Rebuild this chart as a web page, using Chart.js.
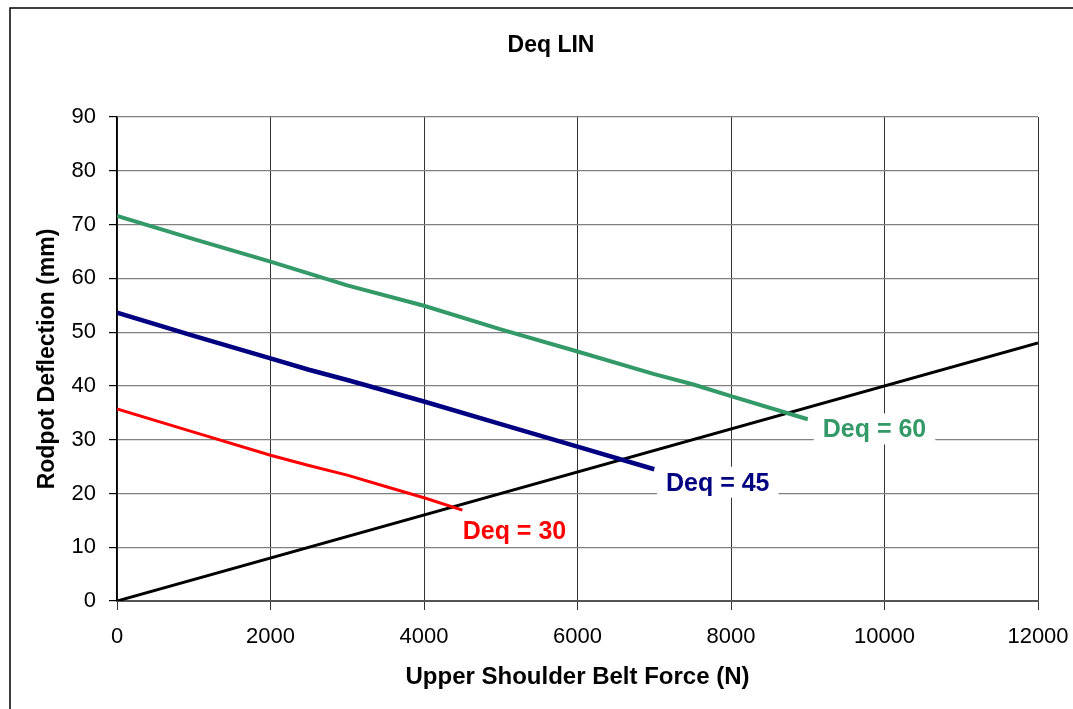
<!DOCTYPE html>
<html>
<head>
<meta charset="utf-8">
<title>Deq LIN</title>
<script src="https://cdn.jsdelivr.net/npm/chart.js@4/dist/chart.umd.min.js"></script>
<style>
  body { margin: 0; background: #fff; }
  canvas { display: block; }
</style>
</head>
<body>
<canvas id="chart" width="1073" height="709"></canvas>
<script>
// belt force (N) and rodpot deflection (mm) for each Deq curve
const forceDeq60 = [0, 1000, 2000, 3000, 4000, 5000, 6000, 7000, 7500, 8000, 9000];
const deflDeq60 = [71.6, 67.3, 63.1, 58.7, 54.9, 50.5, 46.4, 42.2, 40.3, 38.1, 33.8];

const forceDeq45 = [0, 1000, 2000, 2500, 3000, 4000, 5000, 6000, 7000];
const deflDeq45 = [53.6, 49.3, 45.1, 43.0, 41.1, 37.1, 32.9, 28.7, 24.5];

const forceDeq30 = [0, 1000, 2000, 2500, 3000, 3500, 4000, 4500];
const deflDeq30 = [35.7, 31.4, 27.1, 25.2, 23.4, 21.3, 19.2, 16.9];

const forceLin = [0, 12000];
const deflLin = [0, 48];

// curve labels, anchored at their left edge / vertical middle (data units)
const labelText = ["Deq = 60", "Deq = 45", "Deq = 30"];
const labelForce = [9195, 7153, 4504];
const labelDefl = [31.9, 22.0, 13.0];
const labelColors = ["#339966", "#000080", "#ff0000"];

function toPoints(xs, ys) {
  return xs.map((x, i) => ({ x: x, y: ys[i] }));
}

const FONT = "'Liberation Sans', Arial, sans-serif";

// outer frame, chart title and the curve labels
const extras = {
  id: "extras",
  afterDraw(chart) {
    const ctx = chart.ctx;
    ctx.save();
    ctx.strokeStyle = "#000";
    ctx.lineWidth = 1.5;
    ctx.beginPath();
    ctx.moveTo(10, 709);
    ctx.lineTo(10, 8);
    ctx.lineTo(1073, 8);
    ctx.stroke();

    ctx.fillStyle = "#000";
    ctx.font = "bold 23px " + FONT;
    ctx.textAlign = "center";
    ctx.textBaseline = "middle";
    ctx.fillText("Deq LIN", 551, 46);

    const xs = chart.scales.x;
    const ys = chart.scales.y;
    ctx.font = "bold 25px " + FONT;
    ctx.textAlign = "left";
    labelText.forEach((t, i) => {
      const px = xs.getPixelForValue(labelForce[i]);
      const py = ys.getPixelForValue(labelDefl[i]);
      const w = ctx.measureText(t).width;
      ctx.fillStyle = "#fff";
      ctx.fillRect(px - 9, py - 16, w + 18, 31);
      ctx.fillStyle = labelColors[i];
      ctx.fillText(t, px, py + 1);
    });
    ctx.restore();
  }
};

const ctx = document.getElementById("chart").getContext("2d");
new Chart(ctx, {
  type: "scatter",
  data: {
    datasets: [
      {
        label: "Deq = 60",
        data: toPoints(forceDeq60, deflDeq60),
        showLine: true,
        borderColor: "#339966",
        borderWidth: 4,
        pointRadius: 0
      },
      {
        label: "Deq = 45",
        data: toPoints(forceDeq45, deflDeq45),
        showLine: true,
        borderColor: "#000080",
        borderWidth: 4.5,
        pointRadius: 0
      },
      {
        label: "Deq = 30",
        data: toPoints(forceDeq30, deflDeq30),
        showLine: true,
        borderColor: "#ff0000",
        borderWidth: 3,
        pointRadius: 0
      },
      {
        label: "LIN",
        data: toPoints(forceLin, deflLin),
        showLine: true,
        borderColor: "#000000",
        borderWidth: 3,
        pointRadius: 0
      }
    ]
  },
  options: {
    responsive: false,
    animation: false,
    layout: { padding: { top: 117, right: 35, left: 0, bottom: 0 } },
    plugins: {
      legend: { display: false },
      tooltip: { enabled: false }
    },
    scales: {
      x: {
        type: "linear",
        min: 0,
        max: 12000,
        ticks: {
          stepSize: 2000,
          color: "#000",
          padding: 14,
          font: { family: FONT, size: 22 },
          callback: (v) => String(v)
        },
        grid: {
          color: "#333333",
          lineWidth: 1,
          tickLength: 9,
          tickColor: "#333333"
        },
        border: { color: "#555555", width: 2 },
        title: {
          display: true,
          text: "Upper Shoulder Belt Force (N)",
          color: "#000",
          padding: { top: 0, bottom: 17 },
          font: { family: FONT, size: 24, weight: "bold" }
        },
        afterFit(scale) {
          scale.height = 108;
          scale.paddingLeft = 0;
          scale.paddingRight = 0;
        }
      },
      y: {
        min: 0,
        max: 90,
        ticks: {
          stepSize: 10,
          color: "#000",
          padding: 13,
          font: { family: FONT, size: 22 }
        },
        grid: {
          color: "#808080",
          lineWidth: 1.2,
          tickLength: 8,
          tickColor: "#000"
        },
        border: { color: "#000", width: 1.5 },
        title: {
          display: true,
          text: "Rodpot Deflection (mm)",
          color: "#000",
          padding: { top: 34, bottom: 0 },
          font: { family: FONT, size: 23, weight: "bold" }
        },
        afterFit(scale) {
          scale.width = 117;
        }
      }
    }
  },
  plugins: [extras]
});
</script>
</body>
</html>
